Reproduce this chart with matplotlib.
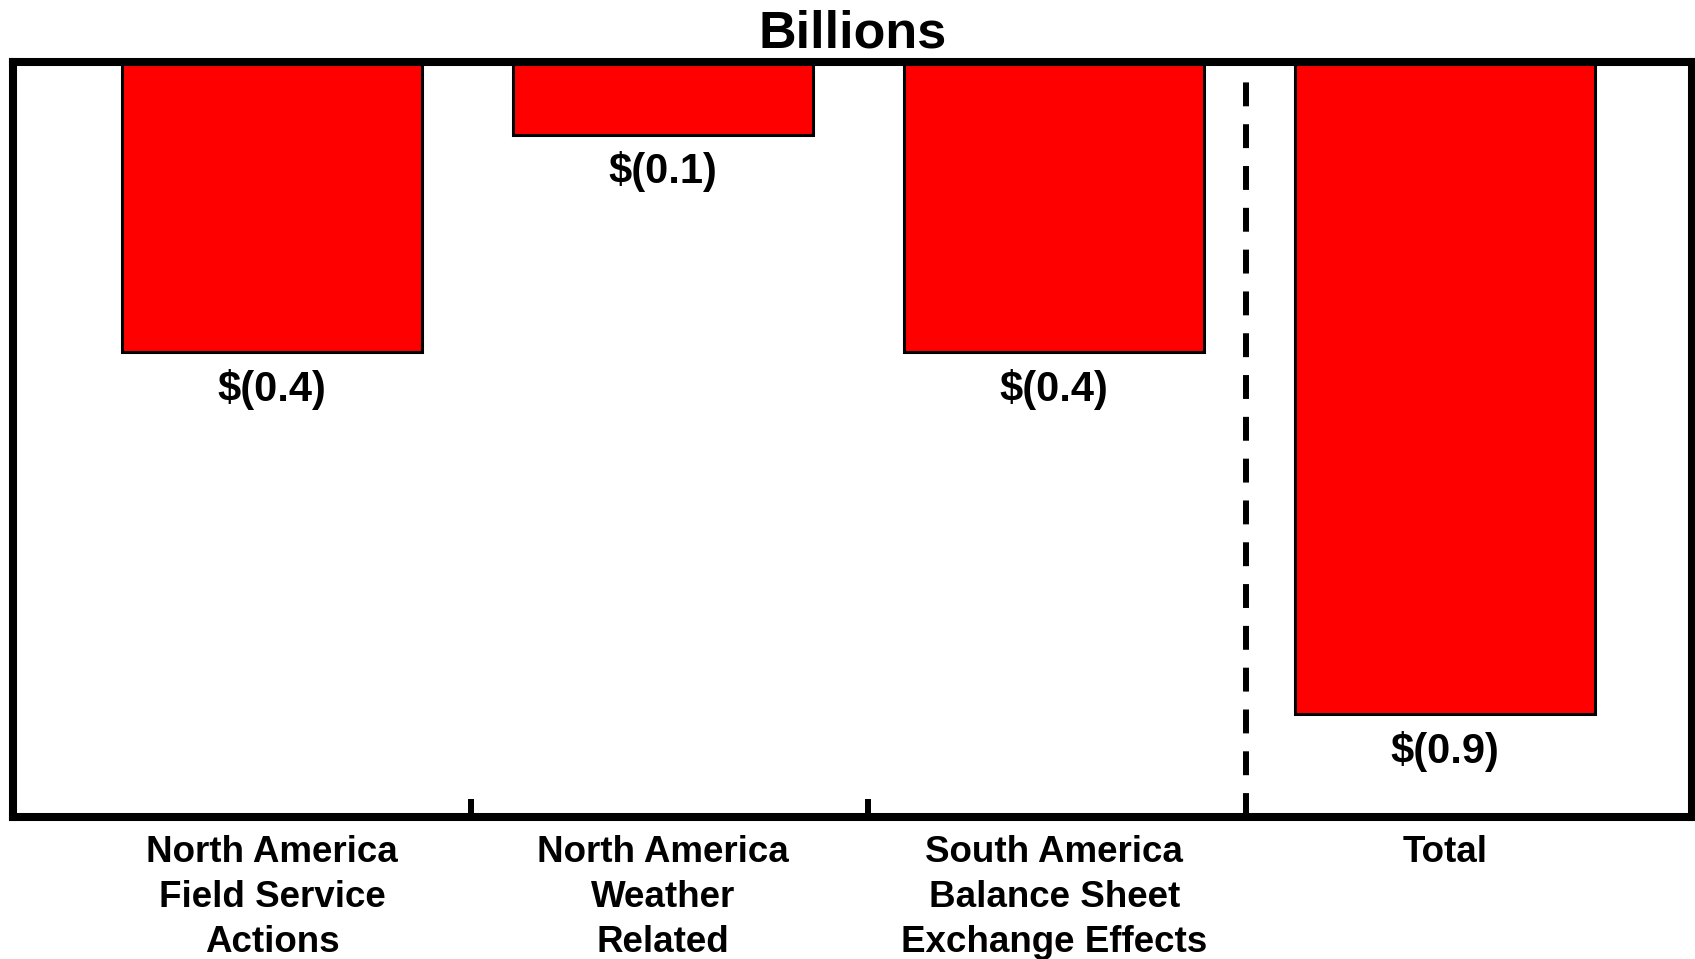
import matplotlib.pyplot as plt
import numpy as np

categories = ["North America\nField Service\nActions",
              "North America\nWeather\nRelated",
              "South America\nBalance Sheet\nExchange Effects",
              "Total"]
values = [-0.4, -0.1, -0.4, -0.9]
value_labels = ["$(0.4)", "$(0.1)", "$(0.4)", "$(0.9)"]


def main():
    plt.rcParams['font.family'] = ['Liberation Sans', 'DejaVu Sans']
    plt.rcParams['font.weight'] = 'bold'

    fig = plt.figure(figsize=(16.95, 9.59), dpi=100)
    ax = fig.add_axes([0.0077, 0.148, 0.9903, 0.787])

    x = np.arange(len(categories))
    bars = ax.bar(x, values, width=0.767, color='#ff0000',
                  edgecolor='black', linewidth=2.2, zorder=2)

    # value labels under each bar
    for bar, lab in zip(bars, value_labels):
        ax.annotate(lab, (bar.get_x() + bar.get_width() / 2, bar.get_height()),
                    xytext=(0, -12), textcoords='offset points',
                    ha='center', va='top', fontsize=30, fontweight='bold')

    # separator before the total
    ax.axvline(2.49, color='black', linewidth=4.3, dashes=(4, 3),
               zorder=1)

    ax.set_xlim(-0.662, 3.63)
    ax.set_ylim(-1.042, 0)

    ax.set_xticks(x)
    ax.set_xticklabels(categories, fontsize=26.5, fontweight='bold',
                       linespacing=1.37)
    ax.tick_params(axis='x', which='major', length=0, pad=13)
    ax.set_xticks([0.51, 1.525], minor=True)
    ax.tick_params(axis='x', which='minor', direction='in', length=13,
                   width=4.3, color='black')
    ax.set_yticks([])

    for sp in ax.spines.values():
        sp.set_linewidth(5.8)
        sp.set_zorder(3)

    ax.set_title('Billions', fontsize=37.5, fontweight='bold', pad=11)

    fig.savefig('out.png', dpi=100)
    plt.close(fig)


if __name__ == '__main__':
    main()
